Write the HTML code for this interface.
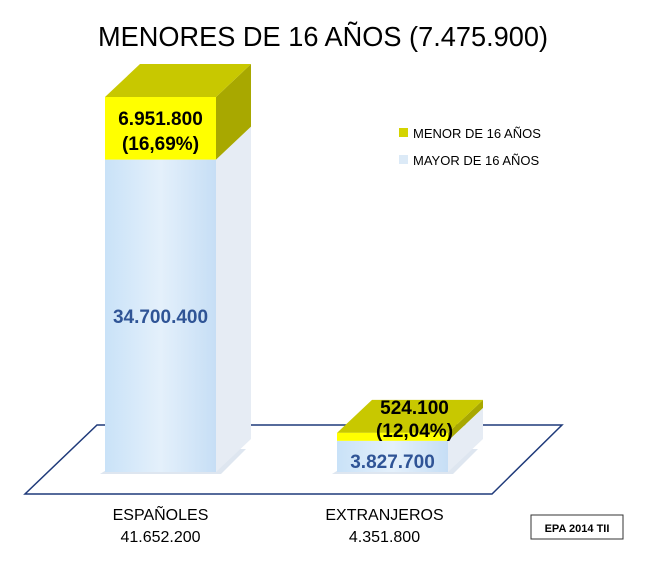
<!DOCTYPE html>
<html><head><meta charset="utf-8"><style>
body{margin:0;background:#fff;font-family:"Liberation Sans",sans-serif}
svg text{font-family:"Liberation Sans",sans-serif}
</style></head><body>
<svg width="647" height="570" viewBox="0 0 647 570">
<defs>
<linearGradient id="blueF" x1="0" x2="1"><stop offset="0" stop-color="#c9e2f8"/><stop offset="0.5" stop-color="#e4f0fb"/><stop offset="1" stop-color="#c6def5"/></linearGradient>
</defs>
<text x="323" y="46" text-anchor="middle" font-size="28" fill="#000" textLength="450" lengthAdjust="spacingAndGlyphs">MENORES DE 16 AÑOS (7.475.900)</text>
<polygon points="97,425 562,425 492,494 25,494" fill="#fff" stroke="#1f3a7a" stroke-width="1.5"/>
<g id="bars"></g>
<g>
<rect x="399" y="128" width="9" height="9" fill="#d4d400"/>
<text x="413" y="138" font-size="13">MENOR DE 16 AÑOS</text>
<rect x="399" y="155" width="9" height="9" fill="#dceaf7"/>
<text x="413" y="165" font-size="13">MAYOR DE 16 AÑOS</text>
</g>
<rect x="531" y="515" width="92" height="24" fill="#fff" stroke="#333"/>
<text x="577" y="532" text-anchor="middle" font-size="11" font-weight="bold">EPA 2014 TII</text>
</svg>
<script>
const categories=["ESPAÑOLES","EXTRANJEROS"];
const totals=["41.652.200","4.351.800"];
const menor=[6951800,524100];
const mayor=[34700400,3827700];
const menorLabels=["6.951.800","524.100"];
const pctLabels=["(16,69%)","(12,04%)"];
const mayorLabels=["34.700.400","3.827.700"];
const NS="http://www.w3.org/2000/svg";
const g=document.getElementById('bars');
const base=472, maxTotal=41652200, plotH=375;
const y=v=>base - v/maxTotal*plotH;
const xLeft=i=>105+i*232, bw=111, dx=35, dy=-33;
function el(t,a){const e=document.createElementNS(NS,t);for(const k in a)e.setAttribute(k,a[k]);g.appendChild(e);return e;}
categories.forEach((c,i)=>{
  const x0=xLeft(i), x1=x0+bw;
  let yMid=y(mayor[i]); const yTop=y(mayor[i]+menor[i]);
  if(yMid-yTop<8) yMid=yTop+8;
  let e;
  e=el('polygon',{points:`${x0-5},${base+2} ${x1+5},${base+2} ${x1+dx-5},${base+dy+10} ${x0+dx},${base+dy+10}`,fill:'#c8d6e6',opacity:'0.6'});
  
  
  e=el('polygon',{points:`${x1},${yMid} ${x1+dx},${yMid+dy} ${x1+dx},${base+dy} ${x1},${base}`,fill:'#e6ecf4'});
  
  
  e=el('rect',{x:x0,y:yMid,width:bw,height:base-yMid,fill:'url(#blueF)'});
  
  
  e=el('polygon',{points:`${x1},${yTop} ${x1+dx},${yTop+dy} ${x1+dx},${yMid+dy} ${x1},${yMid}`,fill:'#a8a800'});
  
  
  e=el('polygon',{points:`${x0},${yTop} ${x0+dx},${yTop+dy} ${x1+dx},${yTop+dy} ${x1},${yTop}`,fill:'#c8c800'});
  
  
  e=el('rect',{x:x0,y:yTop,width:bw,height:yMid-yTop,fill:'#ffff00'});
  
  
  const cx=x0+bw/2;
  const big=(yMid-yTop)>40;
  const lx= big? cx : cx+22;
  const ly1= big? yTop+28 : yTop-19, ly2= big? yTop+53 : yTop+4;
  e=el('text',{x:lx,y:ly1,'text-anchor':'middle','font-size':'19','font-weight':'bold',fill:'#000'});e.textContent=menorLabels[i];
  
  
  e=el('text',{x:lx,y:ly2,'text-anchor':'middle','font-size':'19','font-weight':'bold',fill:'#000'});e.textContent=pctLabels[i];
  
  
  const my= big? (yMid+base)/2+7 : base-4;
  e=el('text',{x:cx,y:my,'text-anchor':'middle','font-size':'19','font-weight':'bold',fill:'#2f5496'});e.textContent=mayorLabels[i];
  
  
  e=el('text',{x:cx+(i?-8:0),y:520,'text-anchor':'middle','font-size':'16',fill:'#000'});e.textContent=c;
  
  
  e=el('text',{x:cx+(i?-8:0),y:542,'text-anchor':'middle','font-size':'16',fill:'#000'});e.textContent=totals[i];
  
  
});
</script>
</body></html>
